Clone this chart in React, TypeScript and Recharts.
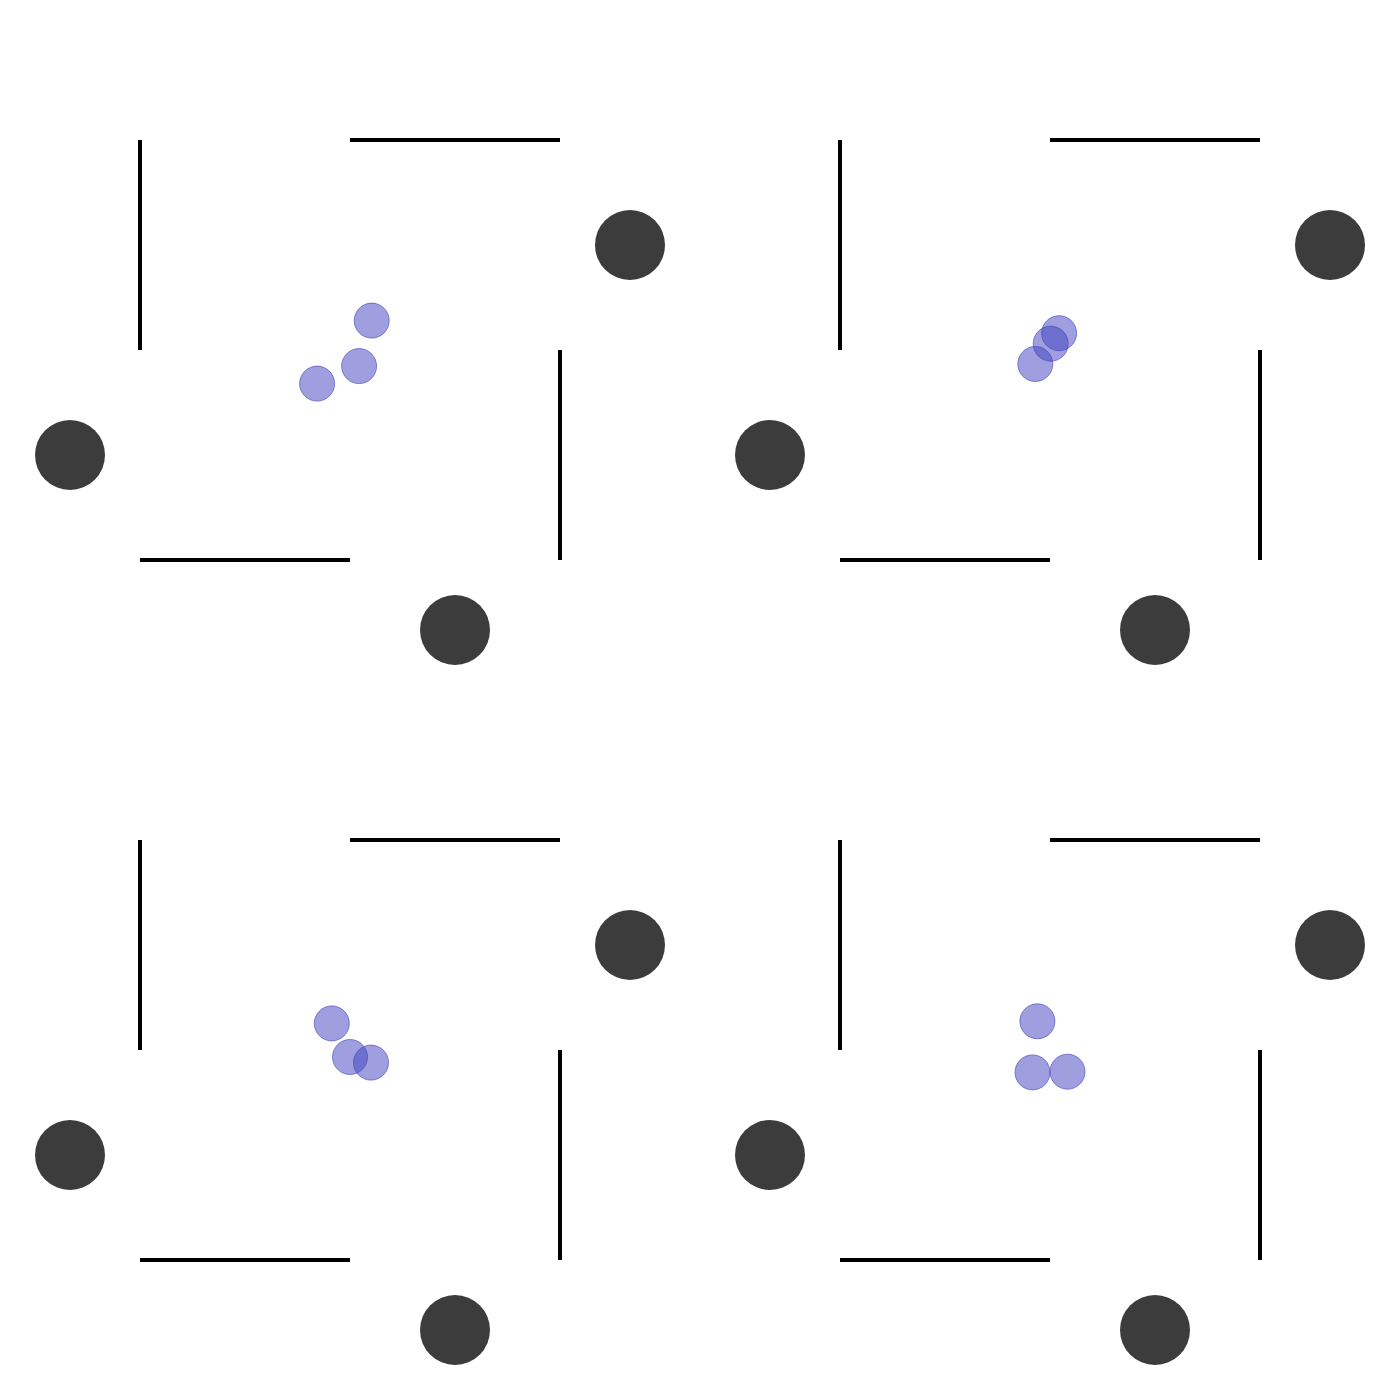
import React from "react";
import {
  ScatterChart,
  Scatter,
  XAxis,
  YAxis,
  ReferenceLine,
} from "recharts";

// walls of the pinwheel, same in every panel
const walls = [
  [{ x: -3, y: 3 }, { x: -3, y: 0 }],
  [{ x: 0, y: 3 }, { x: 3, y: 3 }],
  [{ x: 3, y: 0 }, { x: 3, y: -3 }],
  [{ x: -3, y: -3 }, { x: 0, y: -3 }],
];

const obstacles = [
  { x: 4, y: 1.5 },
  { x: -4, y: -1.5 },
  { x: 1.5, y: -4 },
];

// agent positions per panel
const agentsA = [
  { x: 0.31, y: 0.42 },
  { x: 0.13, y: -0.23 },
  { x: -0.47, y: -0.48 },
];
const agentsB = [
  { x: 0.13, y: 0.24 },
  { x: 0.01, y: 0.09 },
  { x: -0.21, y: -0.2 },
];
const agentsC = [
  { x: -0.26, y: 0.38 },
  { x: 0.0, y: -0.1 },
  { x: 0.3, y: -0.18 },
];
const agentsD = [
  { x: -0.18, y: 0.41 },
  { x: -0.25, y: -0.32 },
  { x: 0.25, y: -0.31 },
];

const panels = [agentsA, agentsB, agentsC, agentsD];

const SIZE = 700;
const DOMAIN: [number, number] = [-5, 5];
const PX_PER_UNIT = SIZE / (DOMAIN[1] - DOMAIN[0]);

const obstacleShape = (props: any) => (
  <circle cx={props.cx} cy={props.cy} r={0.5 * PX_PER_UNIT} fill="#3c3c3c" />
);

const agentShape = (props: any) => (
  <circle
    cx={props.cx}
    cy={props.cy}
    r={0.25 * PX_PER_UNIT}
    fill="#4040c0"
    fillOpacity={0.5}
    stroke="#4040c0"
    strokeOpacity={0.6}
    strokeWidth={1}
  />
);

function Panel({ agents }: { agents: { x: number; y: number }[] }) {
  return (
    <ScatterChart width={SIZE} height={SIZE} margin={{ top: 0, right: 0, bottom: 0, left: 0 }}>
      <XAxis type="number" dataKey="x" domain={DOMAIN} hide allowDataOverflow />
      <YAxis type="number" dataKey="y" domain={DOMAIN} hide allowDataOverflow />
      {walls.map((seg, i) => (
        <ReferenceLine key={i} segment={seg} stroke="#000" strokeWidth={4} ifOverflow="visible" />
      ))}
      <Scatter data={obstacles} shape={obstacleShape} isAnimationActive={false} />
      <Scatter data={agents} shape={agentShape} isAnimationActive={false} />
    </ScatterChart>
  );
}

export default function App() {
  return (
    <>
      <style>{"body{margin:0;background:#fff}"}</style>
      <div
        style={{
          width: 1400,
          height: 1400,
          display: "grid",
          gridTemplateColumns: "700px 700px",
          gridTemplateRows: "700px 700px",
        }}
      >
        {panels.map((a, i) => (
          <Panel key={i} agents={a} />
        ))}
      </div>
    </>
  );
}
